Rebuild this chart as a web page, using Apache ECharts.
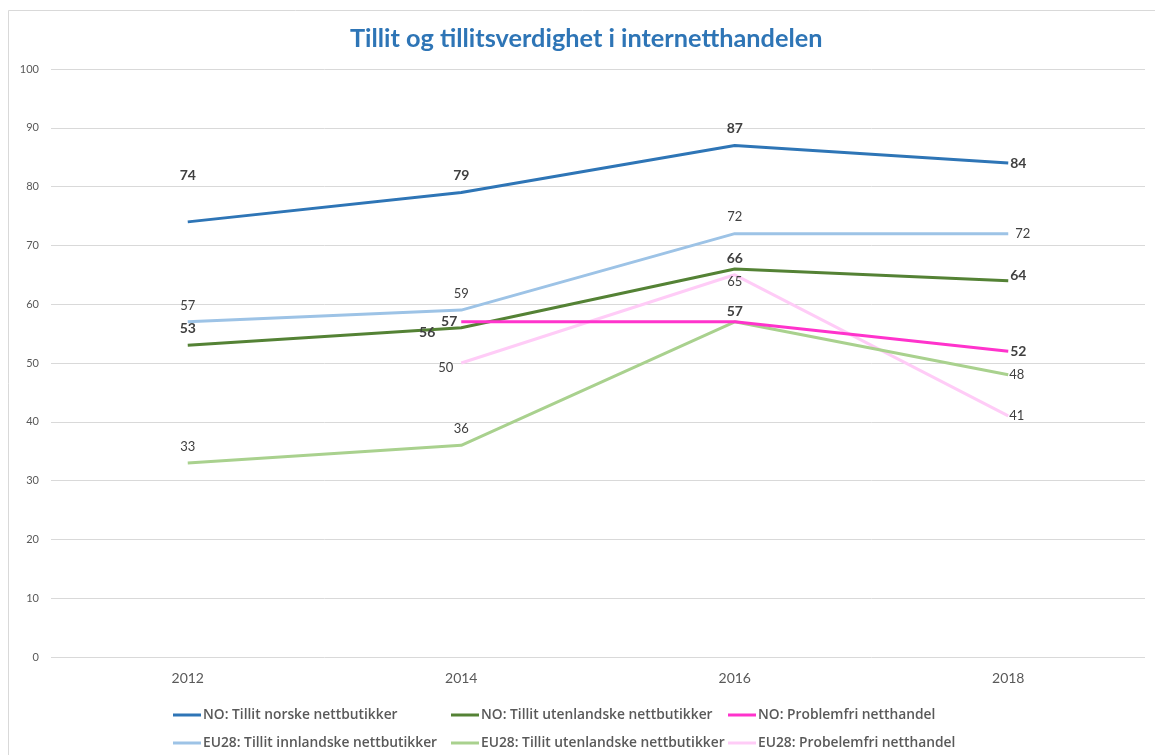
<!DOCTYPE html>
<html>
<head>
<meta charset="utf-8">
<script src="https://cdn.jsdelivr.net/npm/echarts@6/dist/echarts.min.js"></script>
<style>
  html, body { margin: 0; padding: 0; background: #fff; }
  #main { width: 1155px; height: 755px; }
</style>
</head>
<body>
<div id="main"></div>
<script>
// årstall
var years = ['2012', '2014', '2016', '2018'];

// verdier per serie
var noNorske = [74, 79, 87, 84];
var noUtenlandske = [53, 56, 66, 64];
var noProblemfri = [null, 57, 57, 52];
var euInnlandske = [57, 59, 72, 72];
var euUtenlandske = [33, 36, 57, 48];
var euProblemfri = [null, 50, 65, 41];

var yTicks = [0, 10, 20, 30, 40, 50, 60, 70, 80, 90, 100];

var names = [
    'NO: Tillit norske nettbutikker',
    'NO: Tillit utenlandske nettbutikker',
    'NO: Problemfri netthandel',
    'EU28: Tillit innlandske nettbutikker',
    'EU28: Tillit utenlandske nettbutikker',
    'EU28: Probelemfri netthandel'
];
var colors = ['#2E75B6', '#548235', '#FF33CC', '#9DC3E6', '#A9D18E', '#FFCCF7'];

// plassering av etikettene, som i Excel
var labelPos = [
    ['top', 'top', 'top', 'right'],
    ['top', 'left', 'top', 'right'],
    [null, 'left', 'top', 'right'],
    ['top', 'top', 'top', 'right'],
    ['top', 'top', null, 'right'],
    [null, 'left', 'bottom', 'right']
];
// avstand fra punktet
var labelDist = [
    [10, 10, 10, 2],
    [10, 5, 3, 2],
    [0, 4, 3, 2],
    [10, 10, 10, 7],
    [10, 10, 0, 1],
    [0, 5, 1, 1]
];

function buildData(values, pos, dist) {
    return values.map(function (v, i) {
        if (v === null) return null;
        var item = { value: v, label: { show: pos[i] !== null } };
        if (pos[i]) {
            item.label.position = pos[i];
            item.label.distance = dist[i];
        }
        return item;
    });
}

var allValues = [noNorske, noUtenlandske, noProblemfri, euInnlandske, euUtenlandske, euProblemfri];

var series = allValues.map(function (vals, k) {
    var bold = k < 3;
    var d = buildData(vals, labelPos[k], labelDist[k]);
    return {
        name: names[k],
        type: 'line',
        data: d,
        symbol: 'circle',
        symbolSize: 0,
        lineStyle: { color: colors[k], width: 3 },
        itemStyle: { color: colors[k] },
        label: {
            show: true,
            color: '#404040',
            fontFamily: 'Lato',
            fontSize: bold ? 14 : 13,
            fontWeight: bold ? 'bold' : 'normal'
        },
        emphasis: { disabled: true }
    };
});
// justeringer som i originalen
series[0].data[0].label.offset = [0, -29];
series[1].data[1].label.offset = [-21, 5];
series[1].data[3].label.offset = [0, -5];
series[5].data[1].label.offset = [-3, 5];

// rekkefølge i tegning: mørke linjer over lyse
series[0].z = 6; series[1].z = 5; series[2].z = 6;
series[3].z = 3; series[4].z = 3; series[5].z = 2;

var legendPos = [
    [173, 708], [451, 708], [728, 708],
    [173, 736], [451, 736], [728, 736]
];
var legends = names.map(function (n, k) {
    return {
        data: [n],
        left: legendPos[k][0],
        top: legendPos[k][1],
        icon: 'rect',
        itemWidth: 28,
        itemHeight: 3,
        padding: 0,
        textStyle: { color: '#595959', fontFamily: 'Open Sans', fontSize: 13.8, fontWeight: 600, padding: [0, 0, 0, -3] }
    };
});

var myChart = echarts.init(document.getElementById('main'));
var option = {
    backgroundColor: '#fff',
    animation: false,
    title: {
        text: 'Tillit og tillitsverdighet i internetthandelen',
        left: 345,
        top: 21,
        textStyle: { color: '#2E75B6', fontFamily: 'Lato', fontSize: 25.3, fontWeight: 'bold' }
    },
    graphic: [{
        type: 'rect',
        shape: { x: 8.5, y: 10.5, width: 1300, height: 900 },
        style: { fill: 'none', stroke: '#d9d9d9', lineWidth: 1 },
        silent: true
    }],
    legend: legends,
    grid: { left: 51, right: 10, top: 69, bottom: 98 },
    xAxis: {
        type: 'category',
        data: years,
        boundaryGap: true,
        axisLine: { show: false },
        axisTick: { show: false },
        axisLabel: { color: '#595959', fontFamily: 'Lato', fontSize: 14, margin: 14 }
    },
    yAxis: {
        type: 'value',
        min: yTicks[0],
        max: yTicks[yTicks.length - 1],
        interval: 10,
        axisLine: { show: false },
        axisTick: { show: false },
        splitLine: { lineStyle: { color: '#d9d9d9', width: 1 } },
        axisLabel: { color: '#595959', fontFamily: 'Lato', fontSize: 11, margin: 12 }
    },
    series: series
};
myChart.setOption(option);
</script>
</body>
</html>
